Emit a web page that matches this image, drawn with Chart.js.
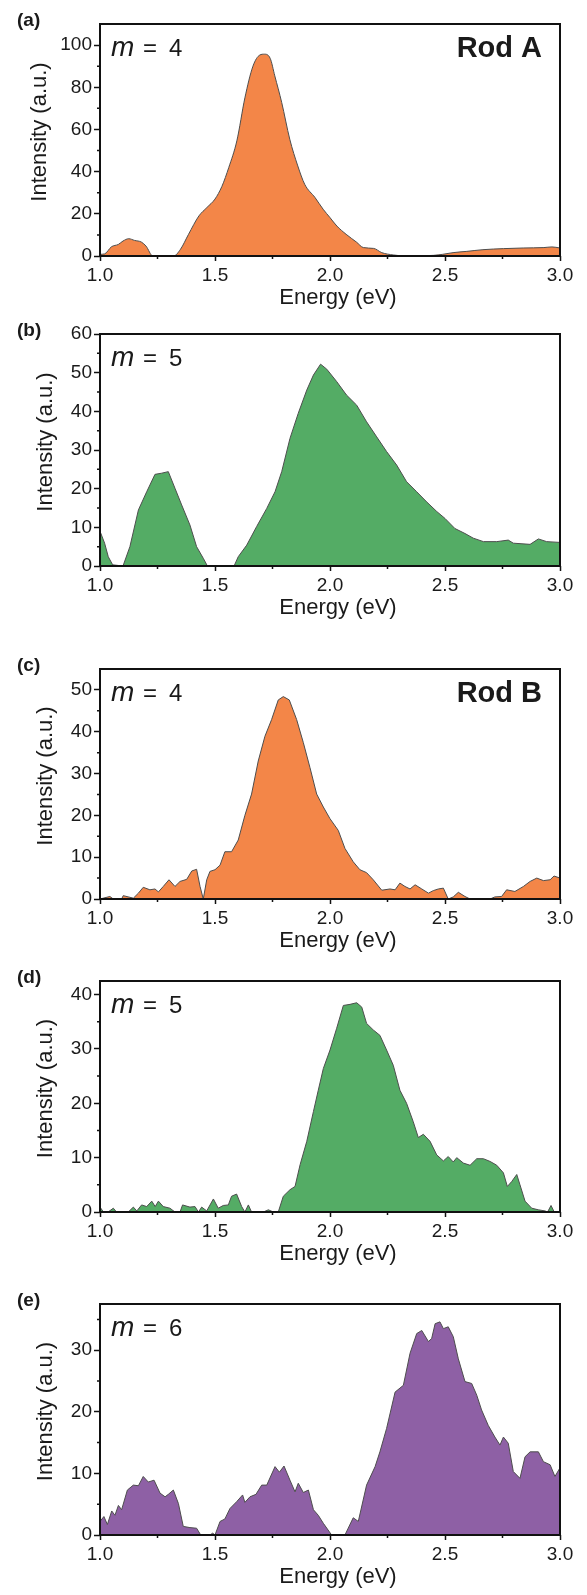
<!DOCTYPE html>
<html lang="en">
<head>
<meta charset="UTF-8">
<title>Spectra</title>
<style>
  body { margin: 0; background: #fff; }
  #page { position: relative; width: 587px; height: 1595px; overflow: hidden; }
  .panel { position: absolute; left: 0; width: 587px; }
</style>
</head>
<body>
<div id="page"></div>
<script src="https://cdn.jsdelivr.net/npm/chart.js"></script>
<script>
    // (a) Rod A, m = 4
    const energyA = [1.00,1.02,1.05,1.08,1.10,1.125,1.15,1.18,1.20,1.23,1.32,1.35,1.385,1.43,1.465,1.50,1.53,1.56,1.595,1.63,1.665,1.695,1.715,1.74,1.76,1.79,1.825,1.86,1.89,1.935,1.97,2.00,2.03,2.07,2.115,2.145,2.19,2.225,2.275,2.33,2.45,2.49,2.535,2.595,2.665,2.755,2.84,2.93,2.965,3.00]
    const intensityA = [0.8,1,4.4,5.5,7.1,8.2,7.4,6.6,4.7,0,0,3.2,10.3,19,23,27,33,42,54.6,75,90,95.3,95.7,93.7,85.4,72.8,55.4,42.7,34,27.7,22.2,18.2,14.2,10.3,6.6,4,3.6,1.6,0.5,0,0.3,0.8,1.6,2.2,3,3.5,3.8,4,4.3,3.8]

    // (b) Rod A, m = 5
    const energyB = [1.00,1.02,1.036,1.055,1.10,1.13,1.167,1.203,1.239,1.268,1.297,1.326,1.355,1.391,1.42,1.449,1.467,1.583,1.601,1.638,1.681,1.725,1.761,1.79,1.826,1.862,1.899,1.928,1.959,1.986,2.029,2.072,2.116,2.159,2.203,2.246,2.29,2.333,2.377,2.42,2.464,2.5,2.543,2.587,2.623,2.667,2.725,2.775,2.797,2.87,2.906,2.942,3.00]
    const intensityB = [9,5.9,2.4,0.3,0,5,14.5,19.2,23.7,24,24.4,20.1,15.8,10.6,5,2,0,0,2.4,5.4,10.2,14.9,19.2,24.4,33,39.5,45.5,49.4,52.2,50.9,47.7,44.2,41.6,37.3,33.4,29.6,26.1,21.8,19.2,16.6,14.1,12.3,9.7,8.4,7.2,6.3,6.3,6.7,5.9,5.6,7,6.3,6.1]

    // (c) Rod B, m = 4
    const energyC = [1.0,1.043,1.058,1.094,1.101,1.145,1.167,1.188,1.217,1.239,1.254,1.275,1.3,1.326,1.348,1.377,1.399,1.42,1.435,1.449,1.464,1.478,1.5,1.522,1.543,1.572,1.601,1.63,1.659,1.688,1.717,1.746,1.775,1.797,1.823,1.855,1.884,1.913,1.942,1.971,2.0,2.036,2.065,2.101,2.13,2.159,2.188,2.225,2.261,2.283,2.304,2.326,2.348,2.37,2.399,2.428,2.449,2.471,2.493,2.514,2.536,2.558,2.587,2.609,2.696,2.717,2.746,2.768,2.804,2.841,2.87,2.899,2.928,2.957,2.974,3.0]
    const intensityC = [0,0.6,0,0,0.8,0.2,1.4,2.8,2.2,2.4,1.7,3,4.6,3,4.2,4.7,6.7,7.1,3,0,4.6,6.6,7,8.1,11.3,11.3,14.1,20,25.1,33,38.9,42.9,47.6,48.4,47.6,42.9,37.4,31.4,25.1,22,19.2,16.4,12.1,8.9,7,6.3,4.6,2.1,2.4,2.2,3.8,3,2.4,3.4,2.4,1.4,2,2.4,2.6,0,0.5,1.6,0.6,0,0,0.5,0.6,2.2,1.8,3,4.2,5,4.4,4.6,5.5,5]

    // (d) Rod B, m = 5
    const energyD = [1.00,1.015,1.035,1.058,1.072,1.123,1.145,1.16,1.181,1.203,1.225,1.24,1.254,1.275,1.304,1.326,1.348,1.359,1.391,1.413,1.428,1.442,1.464,1.493,1.514,1.536,1.558,1.572,1.594,1.616,1.63,1.645,1.659,1.71,1.732,1.754,1.775,1.797,1.826,1.848,1.87,1.899,1.928,1.949,1.971,2.0,2.029,2.058,2.087,2.116,2.138,2.159,2.188,2.217,2.246,2.275,2.304,2.333,2.362,2.384,2.406,2.435,2.464,2.493,2.514,2.536,2.551,2.58,2.609,2.638,2.667,2.696,2.725,2.754,2.771,2.79,2.812,2.826,2.848,2.877,2.906,2.935,2.946,2.961,2.975,3.0]
    const intensityD = [0.9,0,0,0.7,0,0,0.9,0.2,1.3,1,2,1,2,1,0.7,0,0,1.3,0.9,1,0,0.9,0.2,2.4,0.7,1.2,1.3,2.9,3.3,1,0,1.3,0,0,0.4,0,0,2.9,4.1,4.7,8.7,13,18.5,22.4,26.4,29.8,33.8,38,38.2,38.5,37.7,34.7,33.5,32.5,29.8,27,22.4,20,16.6,13.7,14.3,13,10.5,9.4,10.2,9.2,10,9,8.6,9.8,9.8,9.3,8.6,7.2,4.7,5.6,6.9,5,2,0.7,0.4,0.2,0,1.2,0,0]

    // (e) Rod B, m = 6
    const energyE = [1.0,1.017,1.032,1.051,1.065,1.08,1.094,1.119,1.145,1.167,1.188,1.21,1.235,1.261,1.283,1.297,1.319,1.341,1.362,1.391,1.42,1.438,1.478,1.49,1.5,1.522,1.543,1.565,1.594,1.62,1.63,1.652,1.678,1.703,1.725,1.761,1.78,1.8,1.826,1.848,1.862,1.884,1.906,1.928,1.949,1.971,2.007,2.065,2.101,2.123,2.159,2.196,2.217,2.246,2.283,2.319,2.348,2.377,2.399,2.428,2.442,2.457,2.478,2.493,2.514,2.536,2.558,2.587,2.616,2.638,2.659,2.688,2.717,2.739,2.754,2.775,2.797,2.826,2.848,2.87,2.906,2.928,2.957,2.978,3.0]
    const intensityE = [2.2,3,1.7,3.9,3.2,4.8,4.1,7.3,8.1,8,9.5,8.6,8.9,6.8,6.2,6.6,7.3,5.1,1.4,1.2,1.1,0,0,0.3,0,2.2,2.6,4.3,5.4,6.5,5.3,6.2,6.6,8.1,8.1,11.1,10.2,11.2,8.9,7,8.4,6.9,7.3,4.1,3.2,1.9,0,0,2.8,2.2,8.1,11.1,13.5,17.3,23.2,24.3,29.5,32.7,33.2,31.4,31.9,34.3,34.6,33.5,33.8,32.2,28.6,24.9,24.6,22.7,20.3,17.8,15.9,14.6,15.9,14.9,10.3,9.2,12.7,13.5,13.5,11.9,11.4,9.5,10.9]

    const minorEnergy = [1.25, 1.75, 2.25, 2.75]

    const FONT = '"Liberation Sans", Arial, Helvetica, sans-serif'
    const INK = '#1a1a1a'
    const orange = '#f38648'
    const green = '#54ac65'
    const purple = '#8e60a5'

    const panels = [
        {tag: '(a)', m: '4', rod: 'Rod A', energy: energyA, intensity: intensityA, color: orange, yMax: 110, yStep: 20, yMinor: 10, top: 0, boxH: 232, titleX: 40, smooth: true},
        {tag: '(b)', m: '5', rod: '', energy: energyB, intensity: intensityB, color: green, yMax: 60, yStep: 10, yMinor: 5, top: 310, boxH: 232, titleX: 46, smooth: false},
        {tag: '(c)', m: '4', rod: 'Rod B', energy: energyC, intensity: intensityC, color: orange, yMax: 55, yStep: 10, yMinor: 5, top: 645, boxH: 230, titleX: 46, smooth: false},
        {tag: '(d)', m: '5', rod: '', energy: energyD, intensity: intensityD, color: green, yMax: 42.5, yStep: 10, yMinor: 5, top: 957, boxH: 231, titleX: 46, smooth: false},
        {tag: '(e)', m: '6', rod: '', energy: energyE, intensity: intensityE, color: purple, yMax: 37.5, yStep: 10, yMinor: 5, top: 1280, boxH: 231, titleX: 46, smooth: false}
    ]

    const PAD_TOP = 24
    const X_AXIS_H = 54

    Chart.defaults.font.family = FONT
    Chart.defaults.color = INK

    function isMultiple(v, step){
        return Math.abs(v / step - Math.round(v / step)) < 1e-6
    }

    // frame, minor ticks and the labels inside / around each panel
    function drawDecor(chart, p){
        const ctx = chart.ctx
        const a = chart.chartArea
        const xs = chart.scales.x
        const ys = chart.scales.y
        ctx.save()
        ctx.strokeStyle = '#111'
        ctx.lineWidth = 2
        ctx.strokeRect(a.left, a.top, a.right - a.left, a.bottom - a.top)

        ctx.lineWidth = 1.5
        ctx.beginPath()
        for(let v = p.yMinor; v < p.yMax; v += p.yMinor){
            if(isMultiple(v, p.yStep)) continue
            const py = ys.getPixelForValue(v)
            ctx.moveTo(a.left - 3, py)
            ctx.lineTo(a.left, py)
        }
        for(let v of minorEnergy){
            const px = xs.getPixelForValue(v)
            ctx.moveTo(px, a.bottom)
            ctx.lineTo(px, a.bottom + 3)
        }
        ctx.stroke()

        ctx.fillStyle = INK
        ctx.textAlign = 'left'
        ctx.textBaseline = 'middle'
        ctx.font = 'bold 19px ' + FONT
        ctx.fillText(p.tag, 17, a.top - 3)

        ctx.textBaseline = 'alphabetic'
        ctx.font = 'italic 28px ' + FONT
        ctx.fillText('m', a.left + 11, a.top + 32)
        ctx.font = '24px ' + FONT
        ctx.fillText('=', a.left + 43, a.top + 32)
        ctx.fillText(p.m, a.left + 69, a.top + 32)

        if(p.rod){
            ctx.font = 'bold 29px ' + FONT
            ctx.textAlign = 'right'
            ctx.fillText(p.rod, a.left + 442, a.top + 33)
        }

        ctx.font = '22px ' + FONT
        ctx.textAlign = 'center'
        ctx.fillText('Energy (eV)', 338, a.bottom + 48)

        ctx.translate(p.titleX, (a.top + a.bottom) / 2 - 8)
        ctx.rotate(-Math.PI / 2)
        ctx.textBaseline = 'middle'
        ctx.fillText('Intensity (a.u.)', 0, 0)
        ctx.restore()
    }

    const page = document.getElementById('page')
    for(let p of panels){
        let div = document.createElement('div')
        div.className = 'panel'
        div.style.top = p.top + 'px'
        div.style.height = (PAD_TOP + p.boxH + X_AXIS_H) + 'px'
        let canvas = document.createElement('canvas')
        div.appendChild(canvas)
        page.appendChild(div)

        const points = p.energy.map((e, i) => ({x: e, y: p.intensity[i]}))

        new Chart(canvas, {
            type: 'line',
            data: {
                datasets: [{
                    data: points,
                    fill: 'origin',
                    backgroundColor: p.color,
                    borderColor: '#4d4d4d',
                    borderWidth: 1,
                    pointRadius: 0,
                    cubicInterpolationMode: p.smooth ? 'monotone' : 'default'
                }]
            },
            options: {
                responsive: true,
                maintainAspectRatio: false,
                animation: false,
                layout: {padding: {top: PAD_TOP, right: 27, left: 0, bottom: 0}},
                plugins: {legend: {display: false}, tooltip: {enabled: false}},
                scales: {
                    x: {
                        type: 'linear',
                        min: 1,
                        max: 3,
                        border: {display: false},
                        grid: {drawOnChartArea: false, tickLength: 5, tickWidth: 1.5, tickColor: '#111'},
                        ticks: {stepSize: 0.5, maxRotation: 0, autoSkip: false, padding: 3, color: INK, font: {size: 19},
                            callback: v => v.toFixed(1)},
                        afterFit: s => { s.height = X_AXIS_H }
                    },
                    y: {
                        min: 0,
                        max: p.yMax,
                        border: {display: false},
                        grid: {drawOnChartArea: false, tickLength: 6, tickWidth: 1.5, tickColor: '#111'},
                        ticks: {stepSize: p.yStep, padding: 2, color: INK, font: {size: 19}},
                        afterBuildTicks: s => {
                            let t = []
                            for(let v = 0; v <= p.yMax + 1e-9; v += p.yStep) t.push({value: v})
                            s.ticks = t
                        },
                        afterFit: s => { s.width = 100 }
                    }
                }
            },
            plugins: [{id: 'decor', afterDraw: chart => drawDecor(chart, p)}]
        })
    }
</script>
</body>
</html>
